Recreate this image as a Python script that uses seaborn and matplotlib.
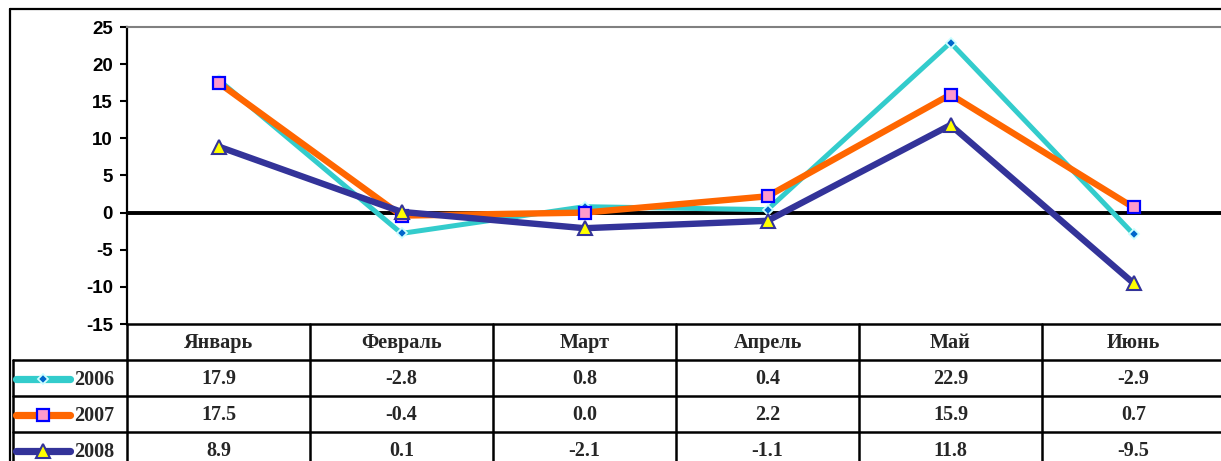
import numpy as np
import pandas as pd
import seaborn as sns
import matplotlib.pyplot as plt

#%% data
months = ['Январь', 'Февраль', 'Март', 'Апрель', 'Май', 'Июнь']
years = ['2006', '2007', '2008']
v2006 = [17.9, -2.8, 0.8, 0.4, 22.9, -2.9]
v2007 = [17.5, -0.4, 0.0, 2.2, 15.9, 0.7]
v2008 = [8.9, 0.1, -2.1, -1.1, 11.8, -9.5]
yticks = [-15, -10, -5, 0, 5, 10, 15, 20, 25]

series = {'2006': v2006, '2007': v2007, '2008': v2008}

#%% styles
styles = {
    '2006': dict(color='#33CCCC', lw=3.6, marker='D', ms=5.5,
                 mfc='#0066CC', mec='#CCFFFF', mew=1.3),
    '2007': dict(color='#FF6600', lw=4.6, marker='s', ms=8.5,
                 mfc='#FF99CC', mec='#0000FF', mew=1.6),
    '2008': dict(color='#333399', lw=4.6, marker='^', ms=9.5,
                 mfc='#FFFF00', mec='#333399', mew=1.5),
}

sns.set_style('white')
plt.rcParams['font.family'] = ['Liberation Sans', 'DejaVu Sans']
plt.rcParams['axes.unicode_minus'] = False

W, H = 1221, 461
fig = plt.figure(figsize=(W / 100, H / 100), dpi=100)

# plot area in pixels
px_left, px_right, px_top, px_bot = 127, 1225, 27, 324
ax = fig.add_axes([px_left / W, 1 - px_bot / H,
                   (px_right - px_left) / W, (px_bot - px_top) / H])

ax.axhline(0, color='black', lw=2.8, zorder=1)

for i, y in enumerate(years):
    df = pd.DataFrame({'month': months, 'value': series[y]})
    st = styles[y]
    sns.lineplot(data=df, x='month', y='value', sort=False, errorbar=None,
                 color=st['color'], linewidth=st['lw'], marker=st['marker'],
                 markersize=st['ms'], markerfacecolor=st['mfc'],
                 markeredgecolor=st['mec'], markeredgewidth=st['mew'],
                 ax=ax, zorder=3 + i, solid_joinstyle='miter')

ax.set_xlim(-0.5, len(months) - 0.5)
ax.set_ylim(-15, 25)
ax.set_yticks(yticks)
ax.set_xticks([])
ax.set_xlabel('')
ax.set_ylabel('')
for lab in ax.get_yticklabels():
    lab.set_fontweight('bold')
    lab.set_fontsize(13.5)
ax.tick_params(axis='y', direction='out', length=5, width=1.5, pad=5,
               colors='black', left=True)
ax.spines['left'].set_linewidth(1.6)
ax.spines['left'].set_color('black')
ax.spines['bottom'].set_linewidth(1.8)
ax.spines['bottom'].set_color('black')
ax.spines['top'].set_color('#808080')
ax.spines['top'].set_linewidth(1.5)
ax.spines['right'].set_visible(False)
ax.set_facecolor('none')

#%% frame + data table (pixel coordinates overlay)
ov = fig.add_axes([0, 0, 1, 1], zorder=-1)
ov.set_xlim(0, W)
ov.set_ylim(H, 0)
ov.axis('off')

lw_t = 1.8
# outer frame
ov.plot([9.5, 9.5], [9.5, H + 5], color='black', lw=1.6)
ov.plot([9.5, W + 5], [9.5, 9.5], color='black', lw=1.6)

col_w = (px_right - px_left) / len(months)
col_x = [px_left + col_w * k for k in range(len(months) + 1)]
row_h = 36
row_y = [px_bot + row_h * k for k in range(len(years) + 2)]
leg_left = 13

# horizontal lines
for k, yy in enumerate(row_y[1:]):
    ov.plot([leg_left, px_right], [yy, yy], color='black', lw=lw_t)
# vertical lines
ov.plot([leg_left, leg_left], [row_y[1], H + 10], color='black', lw=lw_t)
for xx in col_x:
    ov.plot([xx, xx], [px_bot, H + 10], color='black', lw=lw_t)

serif = ['Liberation Serif', 'DejaVu Serif']
fs_t = 14.5
for k, m in enumerate(months):
    ov.text(px_left + col_w * (k + 0.5), (row_y[0] + row_y[1]) / 2 + 1, m,
            ha='center', va='center', fontsize=fs_t, fontweight='bold',
            family=serif)

for r, y in enumerate(years):
    yc = (row_y[r + 1] + row_y[r + 2]) / 2 + 1
    st = styles[y]
    ov.plot([16, 70], [yc, yc], color=st['color'], lw=5.2, solid_capstyle='round')
    ov.plot([43], [yc], marker=st['marker'], ms=st['ms'],
            mfc=st['mfc'], mec=st['mec'], mew=st['mew'], ls='none')
    ov.text(74, yc + 1, y, ha='left', va='center', fontsize=fs_t,
            fontweight='bold', family=serif)
    for k, v in enumerate(series[y]):
        ov.text(px_left + col_w * (k + 0.5), yc, f'{v:.1f}', ha='center',
                va='center', fontsize=fs_t, fontweight='bold', family=serif)

fig.savefig('out.png', dpi=100)
